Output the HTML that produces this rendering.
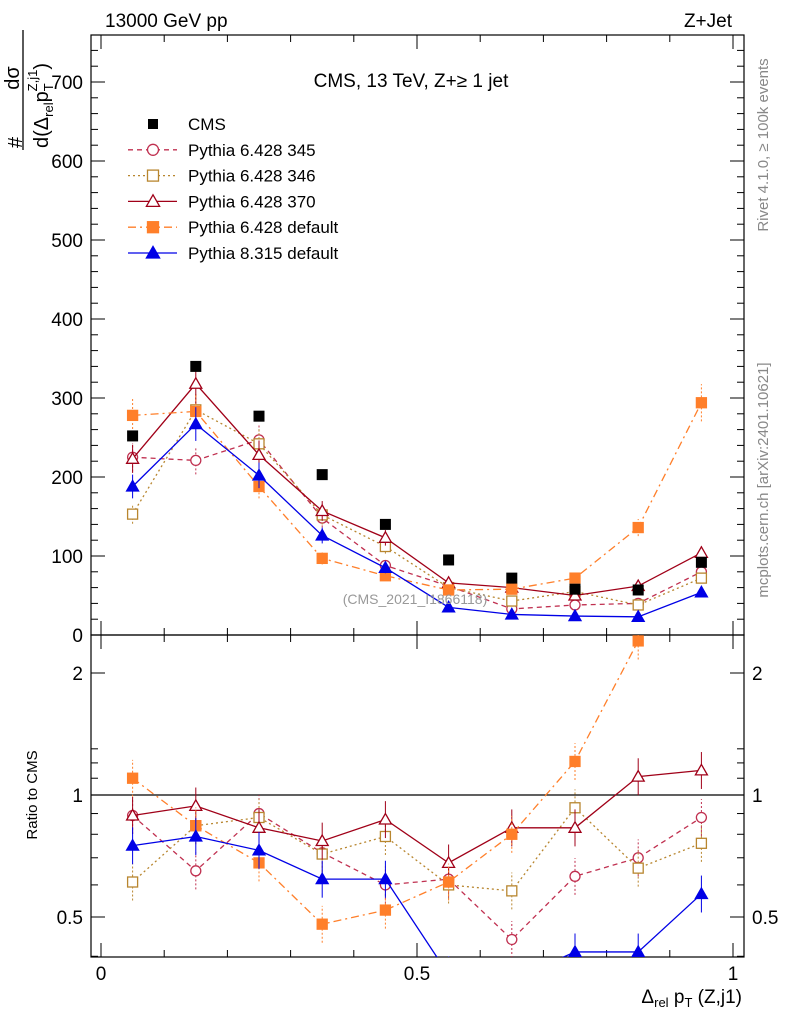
<!DOCTYPE html>
<html><head><meta charset="utf-8"><style>
body{margin:0;background:#fff;}
svg{font-family:"Liberation Sans",sans-serif;}
</style></head><body>
<svg id="c" width="786" height="1024" viewBox="0 0 786 1024" xmlns="http://www.w3.org/2000/svg">
<defs>
<clipPath id="cm"><rect x="91" y="35" width="653" height="600"/></clipPath>
<clipPath id="cr"><rect x="91" y="635" width="653" height="322"/></clipPath>
</defs>
<rect x="91" y="35" width="653" height="600" fill="none" stroke="#000" stroke-width="1.2"/>
<rect x="91" y="635" width="653" height="322" fill="none" stroke="#000" stroke-width="1.2"/>
<g id="axes"></g>
<g id="main" clip-path="url(#cm)"></g>
<g id="ratio" clip-path="url(#cr)"></g>
<g id="legend"></g>
<text x="105" y="27" font-size="19">13000 GeV pp</text>
<text x="732" y="27" font-size="19" text-anchor="end">Z+Jet</text>
<text x="411" y="87" font-size="19" text-anchor="middle">CMS, 13 TeV, Z+≥ 1 jet</text>
<text x="415" y="604" font-size="14" fill="#999" text-anchor="middle">(CMS_2021_I1866118)</text>
<text transform="translate(768,145) rotate(-90)" font-size="15" fill="#888" text-anchor="middle">Rivet 4.1.0, ≥ 100k events</text>
<text transform="translate(768,480) rotate(-90)" font-size="15" fill="#888" text-anchor="middle">mcplots.cern.ch [arXiv:2401.10621]</text>
<g>
<text transform="translate(22,148) rotate(-90)" font-size="20" text-anchor="start">#</text>
<text transform="translate(19,78) rotate(-90)" font-size="20" text-anchor="middle">dσ</text>
<line x1="23" y1="30" x2="23" y2="150" stroke="#000" stroke-width="1.3"/>
<text transform="translate(48,148) rotate(-90)" font-size="20" text-anchor="start">d(Δ<tspan font-size="13" dy="5">rel</tspan><tspan dy="-5">p</tspan><tspan font-size="13" dy="5">T</tspan><tspan font-size="13" dx="-8" dy="-16">Z,j1</tspan><tspan dy="11">)</tspan></text>
</g>
<text transform="translate(37,795) rotate(-90)" font-size="15" text-anchor="middle">Ratio to CMS</text>
<text x="742" y="1003" font-size="19" text-anchor="end">Δ<tspan font-size="13" dy="4">rel</tspan><tspan dy="-4"> p</tspan><tspan font-size="13" dy="4">T</tspan><tspan dy="-4"> (Z,j1)</tspan></text>
</svg>
<script>
const bins=[0.05,0.15,0.25,0.35,0.45,0.55,0.65,0.75,0.85,0.95];
const cmsVals=[252,340,277,203,140,95,72,58,57,92];
const p345=[225,221,247,148,88,62,33,38,40,80];
const p346=[153,285,242,152,112,60,43,55,38,72];
const p370=[223,318,228,157,123,66,60,50,62,104];
const p6def=[278,283,188,97,75,57,58,72,136,294];
const p8def=[188,267,202,126,85,35,26,24,23,54];
const r345=[0.89,0.65,0.90,0.72,0.60,0.62,0.44,0.63,0.70,0.88];
const r346=[0.61,0.84,0.88,0.715,0.79,0.60,0.58,0.93,0.66,0.76];
const r370=[0.89,0.94,0.83,0.77,0.87,0.68,0.83,0.83,1.11,1.15];
const r6def=[1.10,0.84,0.68,0.48,0.52,0.61,0.80,1.21,2.4,3.2];
const r8def=[0.75,0.79,0.73,0.62,0.62,0.36,0.35,0.41,0.41,0.57];
const yTicks=[0,100,200,300,400,500,600,700];
const xTicks=[0,0.5,1];
const rTicks=[0.5,1,2];

const NS="http://www.w3.org/2000/svg";
const X=v=>101+v*632;
const Y=v=>635-v*0.79;
const R=v=>795-Math.log2(v)*122;
function mk(p,tag,at){const e=document.createElementNS(NS,tag);for(const k in at)e.setAttribute(k,at[k]);p.appendChild(e);return e;}
const axes=document.getElementById('axes');
for(let v=0;v<=740;v+=20){const y=Y(v);if(y<35)continue;const L=v%100===0?14:7;
 mk(axes,'line',{x1:91,y1:y,x2:91+L,y2:y,stroke:'#000'});mk(axes,'line',{x1:744,y1:y,x2:744-L,y2:y,stroke:'#000'});}
yTicks.forEach(v=>{const t=mk(axes,'text',{x:83,y:Y(v)+7,'font-size':19,'text-anchor':'end'});t.textContent=v;

});
for(let i=0;i<=10;i++){const v=i/10,x=X(v),L=i%5===0?14:7;
 mk(axes,'line',{x1:x,y1:957,x2:x,y2:957-L,stroke:'#000'});mk(axes,'line',{x1:x,y1:635,x2:x,y2:635-L,stroke:'#000'});mk(axes,'line',{x1:x,y1:35,x2:x,y2:35+L,stroke:'#000'});mk(axes,'line',{x1:x,y1:635,x2:x,y2:635+L,stroke:'#000'});}
xTicks.forEach(v=>{const t=mk(axes,'text',{x:X(v),y:980,'font-size':19,'text-anchor':'middle'});t.textContent=v;

});
[0.4,0.5,0.6,0.7,0.8,0.9,1,1.1,1.2,1.3,2].forEach(v=>{const y=R(v),L=rTicks.includes(v)?14:7;
 mk(axes,'line',{x1:91,y1:y,x2:91+L,y2:y,stroke:'#000'});mk(axes,'line',{x1:744,y1:y,x2:744-L,y2:y,stroke:'#000'});});
rTicks.forEach(v=>{const a=mk(axes,'text',{x:83,y:R(v)+7,'font-size':19,'text-anchor':'end'});a.textContent=v;


const b=mk(axes,'text',{x:752,y:R(v)+7,'font-size':19});b.textContent=v;

});
mk(axes,'line',{x1:91,y1:R(1),x2:744,y2:R(1),stroke:'#000','stroke-width':1.2});

const series=[
 {name:'p345',main:p345,ratio:r345,color:'#c03050',dash:'5,4',m:'circle',fill:'none'},
 {name:'p346',main:p346,ratio:r346,color:'#b8862f',dash:'2,3',m:'square',fill:'none'},
 {name:'p370',main:p370,ratio:r370,color:'#a00018',dash:'',m:'tri',fill:'none'},
 {name:'p6def',main:p6def,ratio:r6def,color:'#ff7f2a',dash:'8,4,2,4',m:'square',fill:'#ff7f2a'},
 {name:'p8def',main:p8def,ratio:r8def,color:'#0000e6',dash:'',m:'tri',fill:'#0000e6'}];
function marker(g,type,x,y,c,f,s){
 if(type==='circle')return mk(g,'circle',{cx:x,cy:y,r:s*0.5,fill:f==='none'?'#fff':f,stroke:c,'stroke-width':1.3});
 if(type==='square')return mk(g,'rect',{x:x-s/2,y:y-s/2,width:s,height:s,fill:f==='none'?'#fff':f,stroke:c,'stroke-width':1.3});
 return mk(g,'polygon',{points:`${x},${y-s*0.6} ${x-s*0.6},${y+s*0.45} ${x+s*0.6},${y+s*0.45}`,fill:f==='none'?'#fff':f,stroke:c,'stroke-width':1.3});
}
const main=document.getElementById('main'),ratio=document.getElementById('ratio');
series.forEach(s=>{
 const gm=mk(main,'g',{});
 
 
 mk(gm,'polyline',{points:bins.map((b,i)=>X(b)+','+Y(s.main[i])).join(' '),fill:'none',stroke:s.color,'stroke-width':1.3,'stroke-dasharray':s.dash});
 bins.forEach((b,i)=>{const e=s.main[i]*0.08;mk(gm,'line',{x1:X(b),y1:Y(s.main[i]-e),x2:X(b),y2:Y(s.main[i]+e),stroke:s.color,'stroke-dasharray':s.dash?'2,2':''});
  const m=marker(gm,s.m,X(b),Y(s.main[i]),s.color,s.fill,10);
  
  });
 const gr=mk(ratio,'g',{});
 
 
 mk(gr,'polyline',{points:bins.map((b,i)=>X(b)+','+R(s.ratio[i])).join(' '),fill:'none',stroke:s.color,'stroke-width':1.3,'stroke-dasharray':s.dash});
 bins.forEach((b,i)=>{const v=s.ratio[i];mk(gr,'line',{x1:X(b),y1:R(v*0.9),x2:X(b),y2:R(v*1.11),stroke:s.color,'stroke-dasharray':s.dash?'2,2':''});
  const m=marker(gr,s.m,X(b),R(v),s.color,s.fill,10);
  
  });
});
const gc=mk(main,'g',{});


bins.forEach((b,i)=>{const m=mk(gc,'rect',{x:X(b)-5.5,y:Y(cmsVals[i])-5.5,width:11,height:11,fill:'#000'});
 
 });
const lg=document.getElementById('legend');
const labels=['CMS','Pythia 6.428 345','Pythia 6.428 346','Pythia 6.428 370','Pythia 6.428 default','Pythia 8.315 default'];
labels.forEach((l,i)=>{const y=124+i*25.8;const g=mk(lg,'g',{});
 
 
 if(i===0)mk(g,'rect',{x:148,y:y-5,width:10,height:10,fill:'#000'});
 else{const s=series[i-1];mk(g,'line',{x1:128,y1:y,x2:177,y2:y,stroke:s.color,'stroke-width':1.3,'stroke-dasharray':s.dash});marker(g,s.m,153,y,s.color,s.fill,11);}
 const t=mk(g,'text',{x:188,y:y+6,'font-size':17});t.textContent=l;});
</script>
</body></html>
